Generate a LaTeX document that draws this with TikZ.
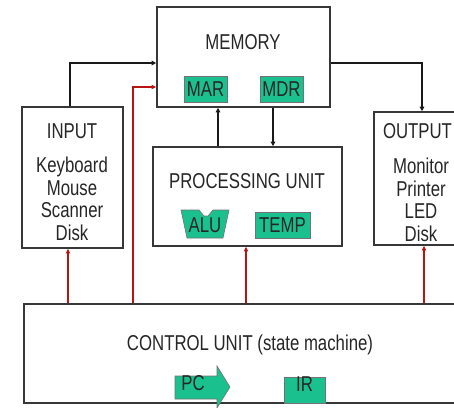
\documentclass[tikz,border=0pt]{standalone}
\usepackage{fontspec}
\setmainfont{Liberation Sans}[FakeStretch=0.78]
\usetikzlibrary{arrows.meta}
\definecolor{regfill}{RGB}{26,192,142}
\definecolor{boxline}{RGB}{55,55,55}
\definecolor{txt}{RGB}{38,38,38}
\definecolor{ctrl}{RGB}{185,20,20}
\begin{document}
\begin{tikzpicture}[x=1pt,y=-1pt,
  unitbox/.style={draw=boxline,line width=1.6pt,fill=white,inner sep=0pt},
  reg/.style={draw=black!55,line width=0.6pt,fill=regfill,inner sep=0pt},
  lbl/.style={text=txt,font=\fontsize{21.5}{22.5}\selectfont,inner sep=0pt,align=center},
  reglbl/.style={text=black!85,font=\fontsize{21.5}{22}\selectfont,inner sep=0pt},
  datafl/.style={draw=black!90,line width=1.4pt,-{Triangle[length=4.5pt,width=4.5pt]}},
  ctlfl/.style={draw=ctrl,line width=1.3pt,-{Triangle[length=4.5pt,width=4pt]}}
]
\useasboundingbox (0,0) rectangle (454,407);
\fill[white] (0,0) rectangle (454,407);
\clip (0,0) rectangle (454,407);

% boxes
\node[unitbox,minimum width=173pt,minimum height=100pt] (mem) at (243.5,57) {};
\node[unitbox,minimum width=101pt,minimum height=141pt] (inp) at (72.5,177.5) {};
\node[unitbox,minimum width=189pt,minimum height=99pt] (pu) at (247.5,196.5) {};
\node[unitbox,minimum width=96pt,minimum height=133pt] (out) at (422,178.5) {};
\node[unitbox,minimum width=456pt,minimum height=99pt] (cu) at (252,353.5) {};

% texts
\node[lbl] (memt) at (243,42) {MEMORY};
\node[lbl] (inpt) at (72,131) {INPUT};
\node[lbl] (inpl) at (72,199) {Keyboard\\Mouse\\Scanner\\Disk};
\node[lbl] (putt) at (247,181) {PROCESSING UNIT};
\node[lbl] (outt) at (417.5,131) {OUTPUT};
\node[lbl] (outl) at (421,200) {Monitor\\Printer\\LED\\Disk};
\node[lbl] (cut) at (250,345) {CONTROL UNIT (state machine)};

% registers
\node[reg,minimum width=43pt,minimum height=26pt] (mar) at (205.5,89) {};
\node[reglbl] (mart) at (mar) {MAR};
\node[reg,minimum width=43pt,minimum height=26pt] (mdr) at (281.5,89) {};
\node[reglbl] (mdrt) at (mdr) {MDR};
\draw[reg] (181,210) -- (199,210) -- (204,216) -- (208,216) -- (213,210) -- (229,210)
  -- (223,238) -- (187,238) -- cycle;
\node[reglbl] (alut) at (205,225) {ALU};
\node[reg,minimum width=55pt,minimum height=26pt] (temp) at (282.5,225) {};
\node[reglbl] (tempt) at (temp) {TEMP};
\draw[reg] (175,376) -- (217,376) -- (217,366) -- (230,387) -- (217,408) -- (217,399)
  -- (175,399) -- cycle;
\node[reglbl] (pct) at (193,383) {PC};
\node[reg,minimum width=41pt,minimum height=26pt] (ir) at (304.5,390) {};
\node[reglbl] (irt) at (304.5,384) {IR};

% data flow
\draw[datafl] ([xshift=-2.5pt]inp.north) |- ([yshift=-6pt]mem.west);
\draw[datafl] ([yshift=-6pt]mem.east) -| (out.north);
\draw[datafl] (pu.north -| 218,0) -- (mem.south -| 218,0);
\draw[datafl] (mem.south -| 273,0) -- (pu.north -| 273,0);

% control flow
\draw[ctlfl] (cu.north -| 133,0) |- ([yshift=-30pt]mem.west);
\draw[ctlfl] (cu.north -| 68,0) -- (inp.south -| 68,0);
\draw[ctlfl] (cu.north -| 246,0) -- (pu.south -| 246,0);
\draw[ctlfl] (cu.north -| 424,0) -- (out.south -| 424,0);
\end{tikzpicture}
\end{document}
